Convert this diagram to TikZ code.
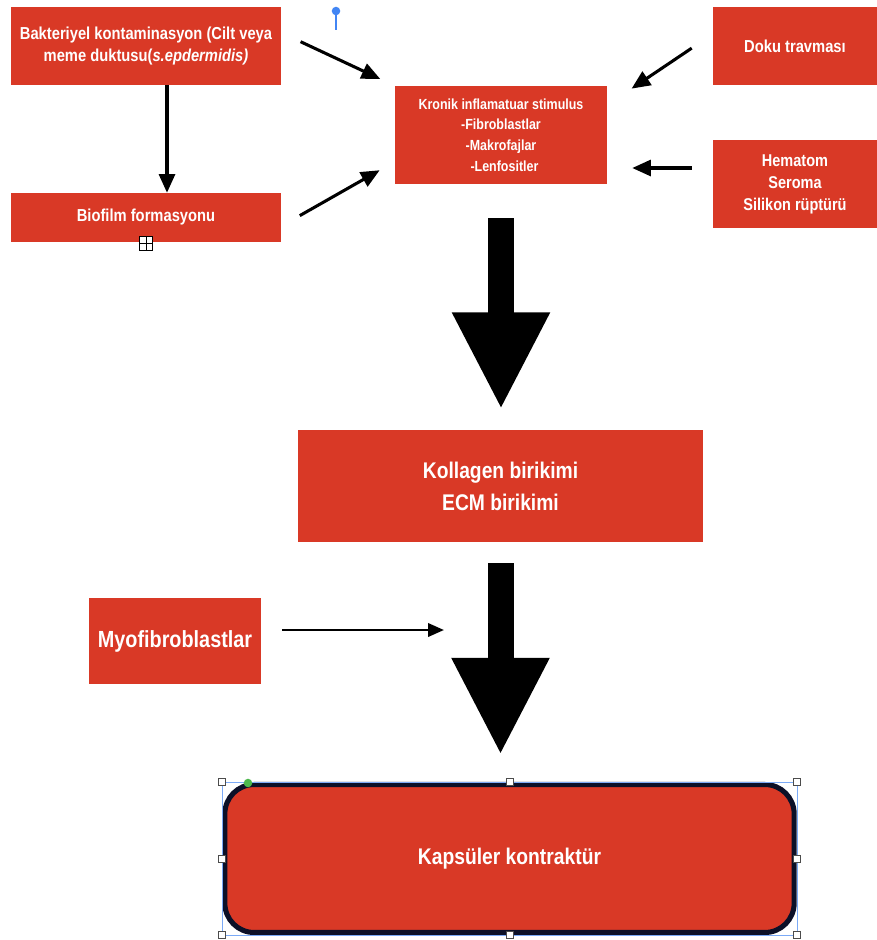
\documentclass[tikz,border=0pt]{standalone}
\usepackage{fontspec}
\setmainfont{Liberation Sans}[FakeStretch=0.85]
\usepackage{tikz}
\usetikzlibrary{arrows.meta, positioning, shapes.geometric}
\definecolor{boxred}{RGB}{217,57,38}
\definecolor{capsborder}{RGB}{12,16,40}
\definecolor{pinblue}{RGB}{66,133,244}

\begin{document}
\begin{tikzpicture}[x=0.75pt, y=-0.75pt]
		\tikzset{box/.style={rectangle, fill=boxred, text=white, font=\bfseries, align=center, inner sep=0}}
		\tikzset{ar/.style={-{Triangle[length=14pt, width=12pt]}, line width=2.3pt, black}}
		\tikzset{bigar/.style={-{Triangle[length=73pt, width=68pt]}, line width=19.5pt, black}}
		\tikzset{handle/.style={rectangle, draw=black!70, fill=white, line width=0.5pt, minimum size=5.5pt, inner sep=0}}
		\useasboundingbox (0,0) rectangle (877,940);
		\node[box, minimum width=202.5pt, minimum height=58.5pt, font=\bfseries\fontsize{13}{16.5}\selectfont] at (146,46) (bakteri) {Bakteriyel kontaminasyon (Cilt veya\\meme duktusu(\textit{s.epdermidis)}};
		\node[box, minimum width=202.5pt, minimum height=36.75pt, font=\bfseries\fontsize{13}{16.5}\selectfont] at (146,217.5) (biofilm) {Biofilm formasyonu};
		\node[box, minimum width=159pt, minimum height=73.5pt, font=\bfseries\fontsize{11}{15.5}\selectfont] at (501,135) (kronik) {Kronik inflamatuar stimulus\\-Fibroblastlar\\-Makrofajlar\\\ \ -Lenfositler};
		\node[box, minimum width=123pt, minimum height=58.5pt, font=\bfseries\fontsize{13}{16.5}\selectfont] at (795,46) (doku) {Doku travması};
		\node[box, minimum width=123pt, minimum height=66pt, font=\bfseries\fontsize{12.8}{16.5}\selectfont] at (795,184) (hematom) {Hematom\\Seroma\\Silikon rüptürü};
		\node[box, minimum width=303.75pt, minimum height=84pt, font=\bfseries\fontsize{17}{24}\selectfont] at (500.5,486) (kollagen) {Kollagen birikimi\\ECM birikimi};
		\node[box, minimum width=129pt, minimum height=64.5pt, font=\bfseries\fontsize{17.5}{21}\selectfont] at (175,641) (myo) {Myofibroblastlar};
		\node[box, draw=capsborder, line width=3.8pt, rounded corners=22pt, minimum width=427pt, minimum height=111pt, font=\bfseries\fontsize{17}{20}\selectfont] at (509.5,858.5) (kapsul) {Kapsüler kontraktür};
		\coordinate (myoend) at (444,630);
		% small arrows
		\draw[ar] ([xshift=15.75pt]bakteri.south) -- ([xshift=15.75pt]biofilm.north);
		\draw[ar, shorten <=16pt, shorten >=12pt] ([yshift=10pt]bakteri.east) -- (kronik.north west);
		\draw[ar, shorten <=16pt, shorten >=13pt] ([yshift=-6.5pt]biofilm.east) -- ([yshift=-20pt]kronik.west);
		\draw[ar, shorten <=19pt, shorten >=22pt] ([yshift=9pt]doku.west) -- ([yshift=22.5pt]kronik.east);
		\draw[ar, shorten <=15.75pt, shorten >=18.75pt] ([yshift=12pt]hematom.west) -- ([yshift=-24.75pt]kronik.east);
		\draw[ar, line width=2pt, -{Triangle[length=12pt, width=10pt]}, shorten <=15.75pt] ([yshift=8.25pt]myo.east) -- (myoend);
		% big arrows
		\draw[bigar, shorten <=25.5pt, shorten >=15pt] (kronik.south) -- (kronik.south |- kollagen.north);
		\draw[bigar, shorten <=15.75pt, shorten >=20pt] (kollagen.south) -- (kollagen.south |- kapsul.north);
		% selection marks
		\draw[pinblue!70, line width=0.4pt] (222,782) rectangle (797,935);
		\foreach \hx/\hy in {222/782, 509.5/782, 797/782, 222/858.5, 797/858.5, 222/935, 509.5/935, 797/935}
			\node[handle] at (\hx,\hy) {};
		\fill[green!60!black!70] (248,783) circle (3.2pt);
		\draw[pinblue, line width=1.3pt] (336,12) -- (336,30);
		\fill[pinblue] (336,11) circle (3.2pt);
		\node[rectangle, draw=black, fill=white, line width=0.7pt, minimum size=10pt, inner sep=0] at (146,243.5) (plus) {};
		\draw[black, line width=0.7pt] (plus.north) -- (plus.south) (plus.west) -- (plus.east);
	\end{tikzpicture}
\end{document}
